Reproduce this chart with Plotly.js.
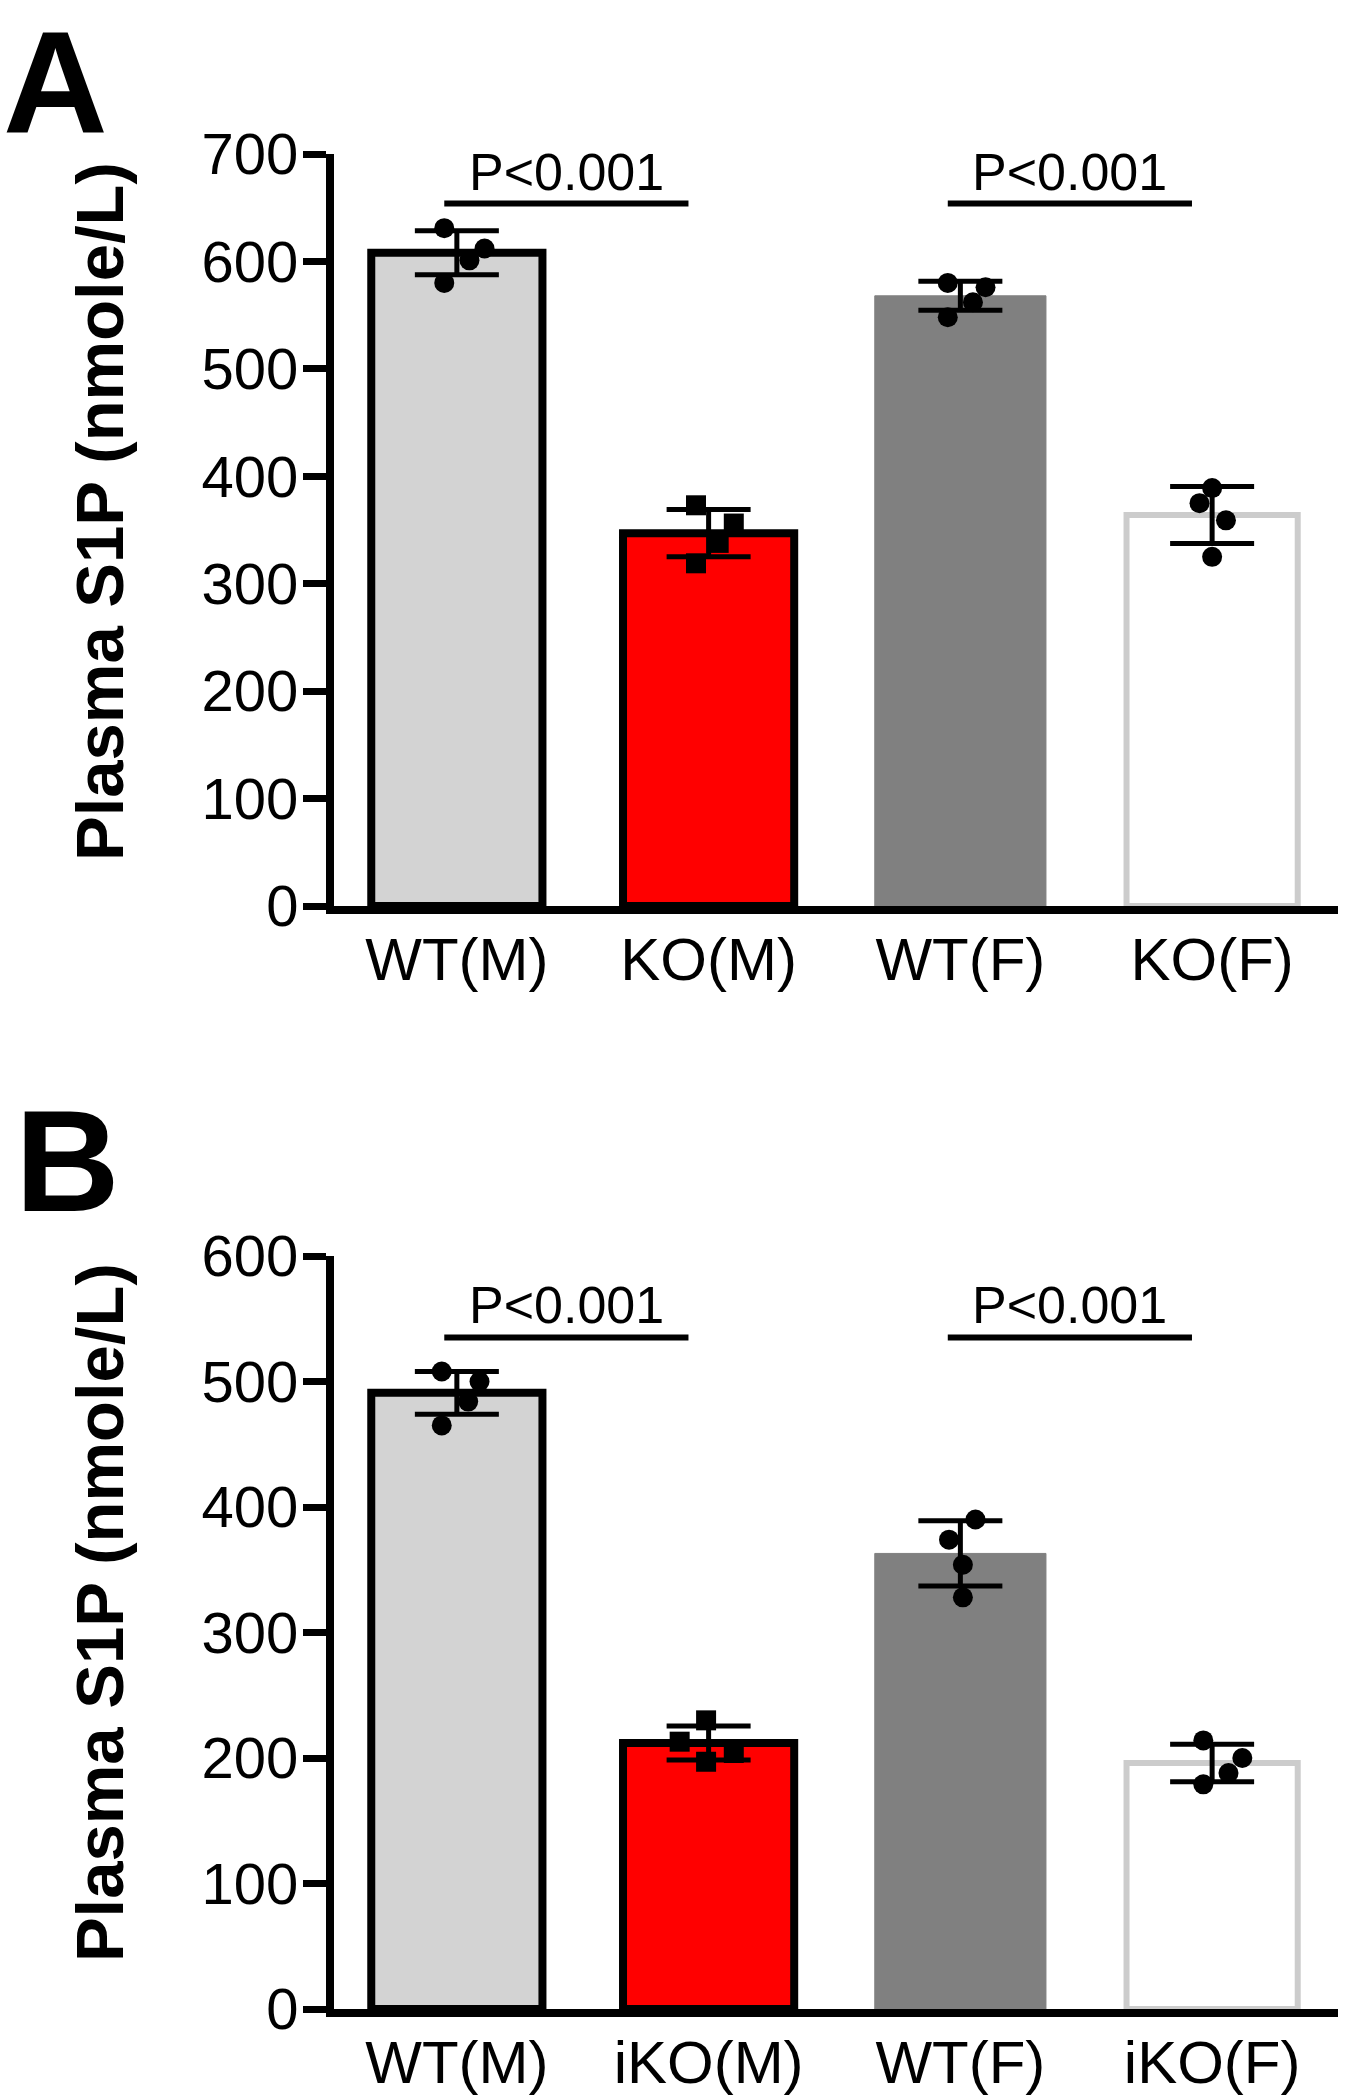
<!DOCTYPE html>
<html>
<head>
<meta charset="utf-8">
<script src="https://cdn.plot.ly/plotly-3.0.1.min.js"></script>
<style>
html,body{margin:0;padding:0;background:#ffffff;}
#chart{width:1346px;height:2100px;}
</style>
</head>
<body>
<div id="chart"></div>
<script>
// ---------------- data ----------------
const categoriesA = ['WT(M)', 'KO(M)', 'WT(F)', 'KO(F)'];
const categoriesB = ['WT(M)', 'iKO(M)', 'WT(F)', 'iKO(F)'];

const meanA = [608, 347, 568, 364];
const sdA   = [20.5, 22, 13.5, 26.5];
const meanB = [491, 212, 363, 196];
const sdB   = [17, 13.5, 26, 15];

// individual animals, panel A
const wtM_A = [631, 612, 601, 580];
const koM_A = [373, 356, 338, 319];
const wtF_A = [580, 576, 562, 548];
const koF_A = [389, 375, 359, 325];
// individual animals, panel B
const wtM_B  = [508, 500, 484, 465];
const ikoM_B = [230, 213, 204, 197];
const wtF_B  = [390, 374, 354, 328];
const ikoF_B = [214, 200, 188, 179];

const yTicksA = [0, 100, 200, 300, 400, 500, 600, 700];
const yTicksB = [0, 100, 200, 300, 400, 500, 600];

const yTitle = 'Plasma S1P (nmole/L)';
const pLabel = 'P<0.001';
const comparisons = [[0, 1], [2, 3]];
const panelLabels = ['A', 'B'];

// ---------------- style ----------------
const FONT = 'Arial, "Liberation Sans", Helvetica, sans-serif';
const fills      = ['#d3d3d3', '#ff0000', '#808080', '#ffffff'];
const edgeColors = ['#000000', '#000000', '#808080', '#cccccc'];
const edgeWidths = [8, 8, 1, 6];
const symbols    = ['circle', 'square', 'circle', 'circle'];
// horizontal scatter of the dots (category units)
const jitterA = [[-0.05, 0.11, 0.05, -0.05], [-0.05, 0.10, 0.04, -0.05],
                 [-0.05, 0.10, 0.05, -0.05], [0, -0.05, 0.055, 0]];
const jitterB = [[-0.06, 0.09, 0.045, -0.06], [-0.01, -0.115, 0.10, -0.01],
                 [0.06, -0.045, 0.01, 0.01], [-0.035, 0.12, 0.065, -0.035]];
const bracketLevelA = 654, pTextA = 683;
const bracketLevelB = 535, pTextB = 561;

const xDomain = [334 / 1346, 1338 / 1346];
const xRange = [-0.488, 3.5];
const yDomainA = [(2100 - 906) / 2100, (2100 - 154) / 2100];
const yDomainB = [(2100 - 2009) / 2100, (2100 - 1256) / 2100];

function barTrace(means, sds, xa, ya) {
  return {
    type: 'bar', x: means.map((_, i) => i), y: means, xaxis: xa, yaxis: ya,
    width: 0.68, showlegend: false, hoverinfo: 'skip',
    marker: { color: fills, line: { color: edgeColors, width: edgeWidths } },
    error_y: { type: 'data', array: sds, visible: true, color: '#000000', thickness: 5, width: 42 }
  };
}
function dotTrace(groups, jitter, xa, ya) {
  const xs = [], ys = [], sym = [];
  groups.forEach((g, i) => g.forEach((v, k) => {
    xs.push(i + jitter[i][k]); ys.push(v); sym.push(symbols[i]);
  }));
  return {
    type: 'scatter', mode: 'markers', x: xs, y: ys, xaxis: xa, yaxis: ya,
    showlegend: false, hoverinfo: 'skip',
    marker: { color: '#000000', size: 20, symbol: sym, line: { width: 0 } }
  };
}

const traces = [
  barTrace(meanA, sdA, 'x', 'y'),
  dotTrace([wtM_A, koM_A, wtF_A, koF_A], jitterA, 'x', 'y'),
  barTrace(meanB, sdB, 'x2', 'y2'),
  dotTrace([wtM_B, ikoM_B, wtF_B, ikoF_B], jitterB, 'x2', 'y2')
];

function xAxis(cats, anchor) {
  return {
    domain: xDomain, anchor: anchor, range: xRange,
    tickvals: cats.map((_, i) => i), ticktext: cats,
    ticks: '', showgrid: false, zeroline: false,
    showline: true, linecolor: '#000000', linewidth: 8,
    tickfont: { family: FONT, size: 60, color: '#000000' },
    ticklabelstandoff: -6, fixedrange: true
  };
}
function yAxis(dom, ticks, anchor) {
  return {
    domain: dom, anchor: anchor, range: [0, ticks[ticks.length - 1]],
    tickvals: ticks, ticks: 'outside', ticklen: 23, tickwidth: 7, tickcolor: '#000000',
    showgrid: false, zeroline: false,
    showline: true, linecolor: '#000000', linewidth: 8,
    tickfont: { family: FONT, size: 58, color: '#000000' },
    ticklabelstandoff: -7, fixedrange: true
  };
}

const shapes = [];
const annotations = [];
[[ 'x', 'y', bracketLevelA, pTextA ], [ 'x2', 'y2', bracketLevelB, pTextB ]].forEach(p => {
  comparisons.forEach(([a, b]) => {
    const x0 = a - 0.05, x1 = b - 0.08;
    shapes.push({ type: 'line', xref: p[0], yref: p[1], x0: x0, x1: x1, y0: p[2], y1: p[2],
                  line: { color: '#000000', width: 6 } });
    annotations.push({ xref: p[0], yref: p[1], x: (x0 + x1) / 2, y: p[3], text: pLabel,
                       showarrow: false, xanchor: 'center', yanchor: 'middle',
                       font: { family: FONT, size: 52, color: '#000000' } });
  });
});
// y titles
[[0.0743, 0.7562], [0.0736, 0.2319]].forEach(pos => {
  annotations.push({ xref: 'paper', yref: 'paper', x: pos[0], y: pos[1], text: '<b>' + yTitle + '</b>',
                     textangle: -90, showarrow: false, xanchor: 'center', yanchor: 'middle',
                     font: { family: FONT, size: 67, color: '#000000' } });
});
// panel letters
annotations.push({ xref: 'paper', yref: 'paper', x: 0.0409, y: 1, text: '<b>' + panelLabels[0] + '</b>',
                   showarrow: false, xanchor: 'center', yanchor: 'top', borderpad: 0,
                   font: { family: FONT, size: 145, color: '#000000' } });
annotations.push({ xref: 'paper', yref: 'paper', x: 0.0498, y: 0.4471, text: '<b>' + panelLabels[1] + '</b>',
                   showarrow: false, xanchor: 'center', yanchor: 'middle',
                   font: { family: FONT, size: 145, color: '#000000' } });

const layout = {
  width: 1346, height: 2100,
  margin: { l: 0, r: 0, t: 0, b: 0, pad: 0 },
  paper_bgcolor: '#ffffff', plot_bgcolor: '#ffffff',
  showlegend: false, bargap: 0,
  xaxis: xAxis(categoriesA, 'y'),
  yaxis: yAxis(yDomainA, yTicksA, 'x'),
  xaxis2: xAxis(categoriesB, 'y2'),
  yaxis2: yAxis(yDomainB, yTicksB, 'x2'),
  shapes: shapes,
  annotations: annotations
};

Plotly.newPlot('chart', traces, layout, { displayModeBar: false, staticPlot: true });
</script>
</body>
</html>
